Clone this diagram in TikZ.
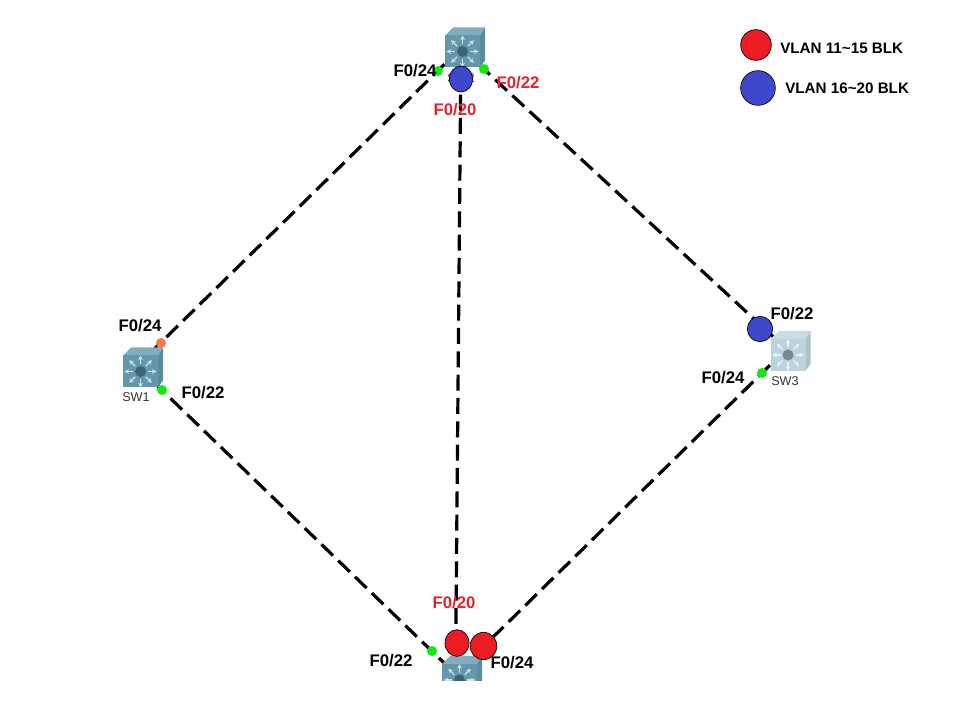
\documentclass[tikz,border=0pt]{standalone}
\usepackage{fontspec}
\setmainfont{Liberation Sans}
\usetikzlibrary{arrows.meta,shapes.geometric}

\definecolor{blkred}{HTML}{ED1C24}
\definecolor{blkblue}{HTML}{3F48CC}
\definecolor{portgreen}{HTML}{12E812}
\definecolor{portorange}{HTML}{F47B45}
\definecolor{labelred}{HTML}{E5232F}
\definecolor{swteal}{HTML}{6398AC}
\definecolor{swpale}{HTML}{BAD3DC}

\tikzset{
    link/.style={line width=2.4pt, dash pattern=on 12pt off 5.5pt},
    port/.style={circle, fill=#1, inner sep=0pt, minimum size=7.5pt},
    blk/.style={ellipse, draw=black, line width=0.5pt, fill=#1, inner sep=0pt},
    portlabel/.style={font=\fontsize{12.6}{14}\selectfont\bfseries, text=#1, inner sep=0pt},
    portlabel/.default=black,
    legendlabel/.style={font=\fontsize{11.4}{14}\selectfont\bfseries, inner sep=0pt, anchor=west},
    swname/.style={font=\fontsize{9.5}{11}\selectfont, text=black!80, inner sep=0pt},
    pics/switch/.style={code={
        \fill[fill=#1!80!white] (-20,-12) -- (-12,-20) -- (20,-20) -- (15,-12) -- cycle;
        \fill[fill=#1!92!black] (15,-12) -- (20,-20) -- (20,13) -- (15,20) -- cycle;
        \fill[fill=#1] (-20,-12) rectangle (15,20);
        \foreach \a in {0,45,...,315}
            \draw[-{Stealth[length=3.5pt,width=3.5pt]}, white!70!#1, line width=1pt] (-2.5,4) ++(\a:7.5) -- ++(\a:8.5);
        \fill[#1!65!black] (-2.5,4) circle (5.5);
    }}
}

\begin{document}
\begin{tikzpicture}[x=0.75pt, y=-0.75pt]

\useasboundingbox (0,0) rectangle (968,709);

% ==== Switches ====
\foreach \name/\x/\y in {SW1/137/366, SW2/461/48, SW3/786.5/349, SW4/455.5/674}
    \node[inner sep=0pt] (\name) at (\x,\y) {};

% ==== Links ====
\draw[link] (SW2.center) -- (SW1.center);
\draw[link] (SW2.center) -- (SW3.center);
\draw[link] (SW2.center) -- (SW4.center);
\draw[link] (SW1.center) -- (SW4.center);
\draw[link] (SW3.center) -- (SW4.center);

% Switch icons
\pic at (143,367.5) {switch=swteal};
\pic at (465,47.5) {switch=swteal};
\pic at (790.5,351) {switch=swpale};
\begin{scope}
    \clip (400,640) rectangle (520,680);
    \pic at (462,676) {switch=swteal};
\end{scope}

\node[swname] (nameSW1) at (136,397) {SW1};
\node[swname] (nameSW2) at (461,78) {SW2};
\node[swname] (nameSW3) at (785,381) {SW3};

% ==== Port lights ====
\node[port=portgreen] (P2a) at (438,71) {};
\node[port=portgreen] (P2b) at (484,69) {};
\node[port=portorange] (P1a) at (161,343) {};
\node[port=portgreen] (P1b) at (162,390) {};
\node[port=portgreen] (P3a) at (762,373) {};
\node[port=portgreen] (P4a) at (432,651) {};

% ==== Blocking ports ====
\node[blk=blkblue, minimum width=17.5pt, minimum height=19.5pt] (B2) at (461,79) {};
\node[blk=blkblue, minimum width=19pt, minimum height=19pt] (B3) at (760,329) {};
\node[blk=blkred, minimum width=18pt, minimum height=20pt] (B4a) at (457,643) {};
\node[blk=blkred, minimum width=20pt, minimum height=20.5pt] (B4b) at (483.5,646) {};

% ==== Port labels ====
\node[portlabel] (L2a) at (415,71) {F0/24};
\node[portlabel=labelred] (L2b) at (518,83) {F0/22};
\node[portlabel=labelred] (L2c) at (455,110) {F0/20};
\node[portlabel] (L1a) at (140,326) {F0/24};
\node[portlabel] (L1b) at (203,393) {F0/22};
\node[portlabel] (L3a) at (792,314) {F0/22};
\node[portlabel] (L3b) at (723,378) {F0/24};
\node[portlabel=labelred] (L4c) at (454,603) {F0/20};
\node[portlabel] (L4a) at (391,661) {F0/22};
\node[portlabel] (L4b) at (512,663) {F0/24};

% ==== Legend ====
\node[blk=blkred, minimum width=23pt, minimum height=23pt] (legendRed) at (756,45) {};
\node[blk=blkblue, minimum width=26pt, minimum height=26pt] (legendBlue) at (758,88) {};
\node[legendlabel] (legendRedText) at (780,48) {VLAN 11\textasciitilde15 BLK};
\node[legendlabel] (legendBlueText) at (785,88) {VLAN 16\textasciitilde20 BLK};

\end{tikzpicture}
\end{document}
